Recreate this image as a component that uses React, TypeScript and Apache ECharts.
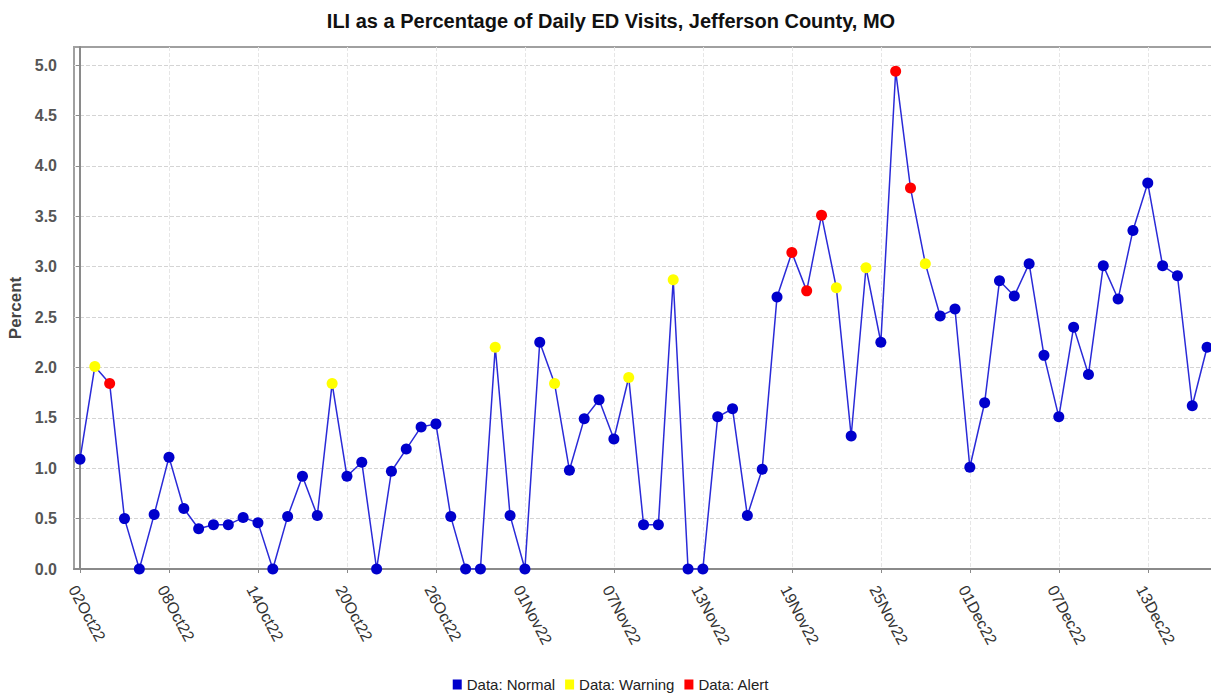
import React, { useEffect, useRef } from "react";
import * as echarts from "echarts";

const dates: string[] = [
  "02Oct22", "03Oct22", "04Oct22", "05Oct22", "06Oct22", "07Oct22", "08Oct22", "09Oct22", "10Oct22", "11Oct22",
  "12Oct22", "13Oct22", "14Oct22", "15Oct22", "16Oct22", "17Oct22", "18Oct22", "19Oct22", "20Oct22", "21Oct22",
  "22Oct22", "23Oct22", "24Oct22", "25Oct22", "26Oct22", "27Oct22", "28Oct22", "29Oct22", "30Oct22", "31Oct22",
  "01Nov22", "02Nov22", "03Nov22", "04Nov22", "05Nov22", "06Nov22", "07Nov22", "08Nov22", "09Nov22", "10Nov22",
  "11Nov22", "12Nov22", "13Nov22", "14Nov22", "15Nov22", "16Nov22", "17Nov22", "18Nov22", "19Nov22", "20Nov22",
  "21Nov22", "22Nov22", "23Nov22", "24Nov22", "25Nov22", "26Nov22", "27Nov22", "28Nov22", "29Nov22", "30Nov22",
  "01Dec22", "02Dec22", "03Dec22", "04Dec22", "05Dec22", "06Dec22", "07Dec22", "08Dec22", "09Dec22", "10Dec22",
  "11Dec22", "12Dec22", "13Dec22", "14Dec22", "15Dec22", "16Dec22", "17Dec22",
];

const values: number[] = [
  1.09, 2.01, 1.84, 0.5, 0.0, 0.54, 1.11, 0.6, 0.4, 0.44,
  0.44, 0.51, 0.46, 0.0, 0.52, 0.92, 0.53, 1.84, 0.92, 1.06,
  0.0, 0.97, 1.19, 1.41, 1.44, 0.52, 0.0, 0.0, 2.2, 0.53,
  0.0, 2.25, 1.84, 0.98, 1.49, 1.68, 1.29, 1.9, 0.44, 0.44,
  2.87, 0.0, 0.0, 1.51, 1.59, 0.53, 0.99, 2.7, 3.14, 2.76,
  3.51, 2.79, 1.32, 2.99, 2.25, 4.94, 3.78, 3.03, 2.51, 2.58,
  1.01, 1.65, 2.86, 2.71, 3.03, 2.12, 1.51, 2.4, 1.93, 3.01,
  2.68, 3.36, 3.83, 3.01, 2.91, 1.62, 2.2,
];

// N = Normal, W = Warning, A = Alert
const statuses: string[] = [
  "N", "W", "A", "N", "N", "N", "N", "N", "N", "N",
  "N", "N", "N", "N", "N", "N", "N", "W", "N", "N",
  "N", "N", "N", "N", "N", "N", "N", "N", "W", "N",
  "N", "N", "W", "N", "N", "N", "N", "W", "N", "N",
  "W", "N", "N", "N", "N", "N", "N", "N", "A", "A",
  "A", "W", "N", "W", "N", "A", "A", "W", "N", "N",
  "N", "N", "N", "N", "N", "N", "N", "N", "N", "N",
  "N", "N", "N", "N", "N", "N", "N",
];

const xTickIdx: number[] = [0, 6, 12, 18, 24, 30, 36, 42, 48, 54, 60, 66, 72];
const yTicks: number[] = [0, 0.5, 1, 1.5, 2, 2.5, 3, 3.5, 4, 4.5, 5];

const statusSeries = [
  { code: "N", name: "Data: Normal", color: "#0000cc" },
  { code: "W", name: "Data: Warning", color: "#ffff00" },
  { code: "A", name: "Data: Alert", color: "#ff0000" },
];

const FONT = "'Liberation Sans', Arial, sans-serif";

export default function App() {
  const ref = useRef<HTMLDivElement>(null);
  useEffect(() => {
    if (!ref.current) return;
    const chart = echarts.init(ref.current, null, { renderer: "svg" });
    const lineData = values.map((v, i) => [i, v]);
    const scatter = statusSeries.map((s) => ({
      name: s.name,
      type: "scatter",
      data: values.map((v, i) => [i, v]).filter((_, i) => statuses[i] === s.code),
      symbol: "circle",
      symbolSize: 11,
      itemStyle: { color: s.color, opacity: 1 },
      z: 5,
      clip: true,
    }));
    chart.setOption({
      animation: false,
      backgroundColor: "#ffffff",
      textStyle: { fontFamily: FONT },
      title: {
        text: "ILI as a Percentage of Daily ED Visits, Jefferson County, MO",
        left: "center",
        top: 6,
        textStyle: { fontFamily: FONT, fontSize: 20, fontWeight: "bold", color: "#111" },
      },
      legend: {
        data: statusSeries.map((s) => ({ name: s.name, icon: "rect", itemStyle: { color: s.color, opacity: 1 } })),
        left: "center",
        top: 672,
        itemWidth: 9,
        itemHeight: 10,
        itemGap: 10,
        textStyle: { fontFamily: FONT, fontSize: 15, color: "#222" },
      },
      grid: {
        left: 74,
        top: 47,
        width: 1142,
        height: 522,
        show: true,
        borderColor: "#a0a0a0",
        borderWidth: 2,
        backgroundColor: "#ffffff",
        outerBoundsMode: "none",
        containLabel: false,
      },
      xAxis: {
        type: "value",
        min: -0.405,
        max: 76.6,
        offset: 8,
        axisLine: { show: true, lineStyle: { color: "#8a8a8a", width: 2 } },
        axisTick: { show: true, length: 4, customValues: xTickIdx, lineStyle: { color: "#8a8a8a" } },
        axisLabel: {
          customValues: xTickIdx,
          rotate: -62,
          margin: 6,
          fontFamily: FONT,
          fontSize: 16,
          color: "#333",
          verticalAlign: "top",
          formatter: (v: number) => dates[Math.round(v)] ?? "",
        },
        splitLine: { show: true, lineStyle: { color: "#e6e6e6", type: "dashed", width: 1 } },
      },
      yAxis: {
        type: "value",
        min: 0,
        max: 5.18,
        offset: 8,
        name: "Percent",
        nameLocation: "middle",
        nameGap: 39,
        nameRotate: 90,
        nameTextStyle: { fontFamily: FONT, fontSize: 17, fontWeight: "bold", color: "#444" },
        axisLine: { show: true, lineStyle: { color: "#8a8a8a", width: 2 } },
        axisTick: { show: true, length: 4, customValues: yTicks, lineStyle: { color: "#8a8a8a" } },
        axisLabel: {
          customValues: yTicks,
          margin: 9,
          fontFamily: FONT,
          fontSize: 16,
          fontWeight: "bold",
          color: "#555",
          formatter: (v: number) => v.toFixed(1),
        },
        splitLine: { show: true, lineStyle: { color: "#d4d4d4", type: "dashed", width: 1 } },
      },
      series: [
        {
          name: "line",
          type: "line",
          data: lineData,
          symbol: "none",
          lineStyle: { color: "#2a2ad8", width: 1.5 },
          z: 3,
          clip: true,
        },
        ...scatter,
      ],
    });
    return () => chart.dispose();
  }, []);
  return (
    <div
      style={{
        position: "fixed",
        left: 0,
        top: 0,
        width: 1211,
        height: 694,
        overflow: "hidden",
        background: "#fff",
      }}
    >
      <div ref={ref} style={{ width: 1222, height: 694 }} />
    </div>
  );
}
